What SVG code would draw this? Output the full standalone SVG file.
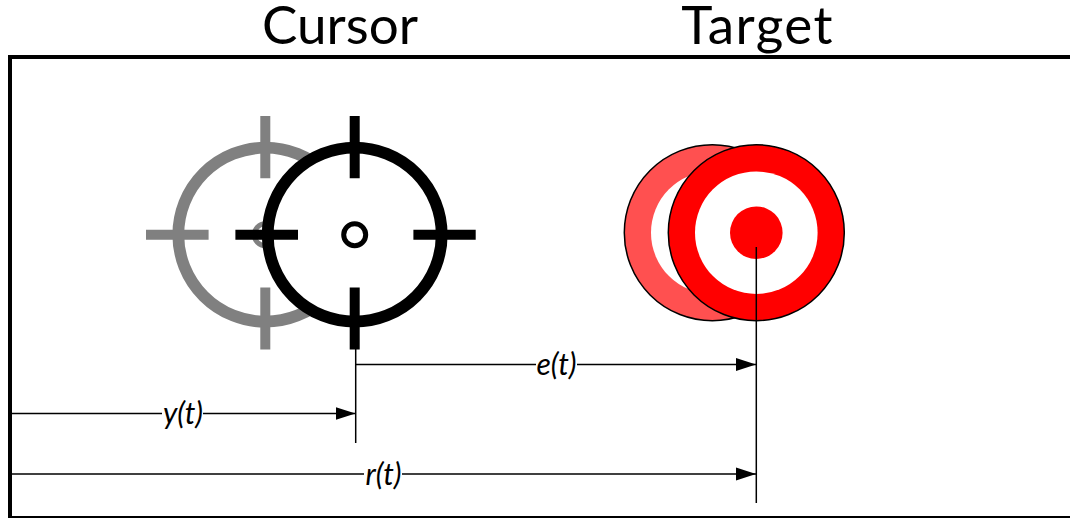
<svg xmlns="http://www.w3.org/2000/svg" width="1070" height="518" viewBox="0 0 1070 518">
<style>
.title{font-family:"Lato","Liberation Sans",sans-serif;font-size:53px;fill:#000;text-anchor:middle}
.lab{font-family:"Lato","Liberation Sans",sans-serif;font-size:30px;font-style:italic;fill:#000;text-anchor:middle}
.ring{fill:#fff;stroke-width:11.8}
.hub{fill:#fff;stroke-width:5}
.tick{stroke-width:10;fill:none}
.ln{stroke:#000;stroke-width:1.5;fill:none}
.halo{fill:#fff}
.g1{stroke:#808080}
.g2{stroke:#000}
.t{stroke:#000;stroke-width:1.5}
</style>
<defs>
<marker id="arr" markerUnits="userSpaceOnUse" markerWidth="20" markerHeight="14" refX="20" refY="7" orient="auto"><path d="M0,0.5L20,7L0,13.5Z" fill="#000"/></marker>
<g id="cross">
<circle class="ring" cx="0" cy="0" r="87"/>
<circle class="hub" cx="0" cy="0" r="11"/>
<path class="tick" d="M0,-118.7V-56.5M0,52.7V114.7M-119.3,0H-56.7M58.7,0H121"/>
</g>
</defs>
<rect width="1070" height="518" fill="#fff"/>
<g id="frame"><path d="M1070,57H10V518H1070" fill="none" stroke="#000" stroke-width="4"/></g>
<text class="title" x="340" y="44">Cursor</text>
<text class="title" x="757.5" y="44" letter-spacing="1.4">Target</text>
<g id="cursor-previous"><use href="#cross" x="265.3" y="234.7" class="g1"/></g>
<g id="cursor"><use href="#cross" x="354.7" y="234.7" class="g2"/></g>
<g id="target-previous">
<circle class="t" cx="712.3" cy="232.7" r="88" fill="#ff5050"/>
<circle cx="712.3" cy="232.7" r="61.3" fill="#fff"/>
</g>
<g id="target">
<circle class="t" cx="756.3" cy="232.7" r="88" fill="#f00"/>
<circle cx="756.3" cy="232.7" r="61.3" fill="#fff"/>
<circle cx="756.3" cy="232.7" r="26.3" fill="#f00"/>
</g>
<g id="connectors">
<path class="ln" d="M355.7,349V443"/>
<path class="ln" d="M756.3,247V503"/>
<path class="ln" d="M355.7,364.5H756" marker-end="url(#arr)"/>
<path class="ln" d="M12,413.5H355.5" marker-end="url(#arr)"/>
<path class="ln" d="M12,474H756" marker-end="url(#arr)"/>
</g>
<g id="label-et"><rect class="halo" x="536" y="352" width="41" height="26"/><text class="lab" x="556.5" y="374.5">e(t)</text></g>
<g id="label-yt"><rect class="halo" x="162" y="402" width="41" height="28"/><text class="lab" x="183" y="424">y(t)</text></g>
<g id="label-rt"><rect class="halo" x="364" y="462" width="38" height="28"/><text class="lab" x="383.5" y="485">r(t)</text></g>
</svg>
